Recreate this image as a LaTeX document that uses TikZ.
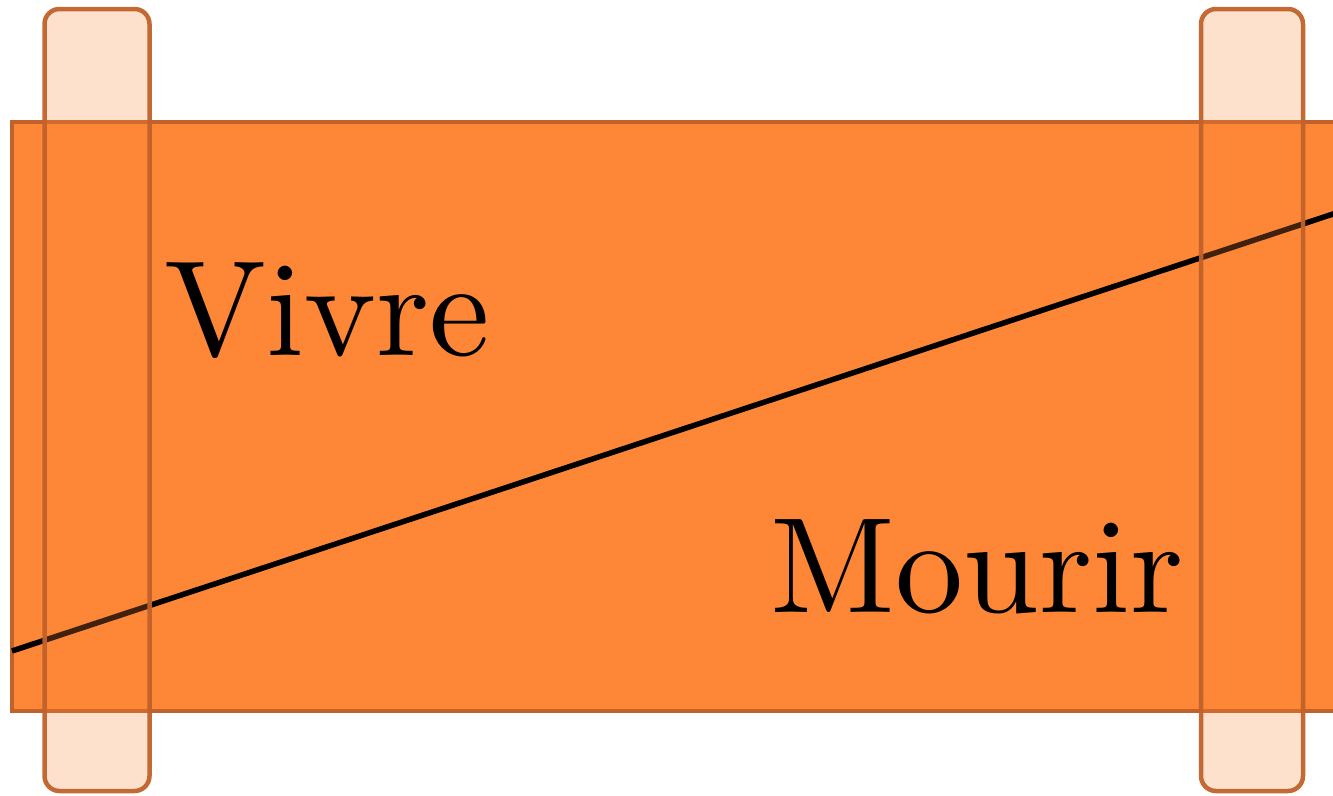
\documentclass[tikz,border=0pt]{standalone}
\definecolor{scrollfill}{HTML}{FD8637}
\definecolor{scrolledge}{HTML}{C0622A}
\begin{document}
\begin{tikzpicture}[x=1pt,y=-1pt,
  sheet/.style={fill=scrollfill,draw=scrolledge,line width=4pt},
  roller/.style={fill=scrollfill,fill opacity=0.25,draw=scrolledge,draw opacity=0.95,line width=4.5pt,rounded corners=15pt},
  word/.style={inner sep=0pt,anchor=base west,scale=13.6,font=\fontsize{10}{12}\selectfont}]
\useasboundingbox (0,0) rectangle (1333,795);
\clip (0,0) rectangle (1333,795);
\draw[sheet] (12,122) rectangle (1350,711);
\node[word] (vivre) at (162,355) {Vivre};
\node[word] (mourir) at (768,612) {Mourir};
\coordinate (a) at (12,651);
\coordinate (b) at (1350,208.4);
\draw[line width=5.5pt] (a) -- (b);
\draw[roller] (44.5,9) rectangle (149.5,791);
\draw[roller] (1201,9) rectangle (1303,791);
\end{tikzpicture}
\end{document}
